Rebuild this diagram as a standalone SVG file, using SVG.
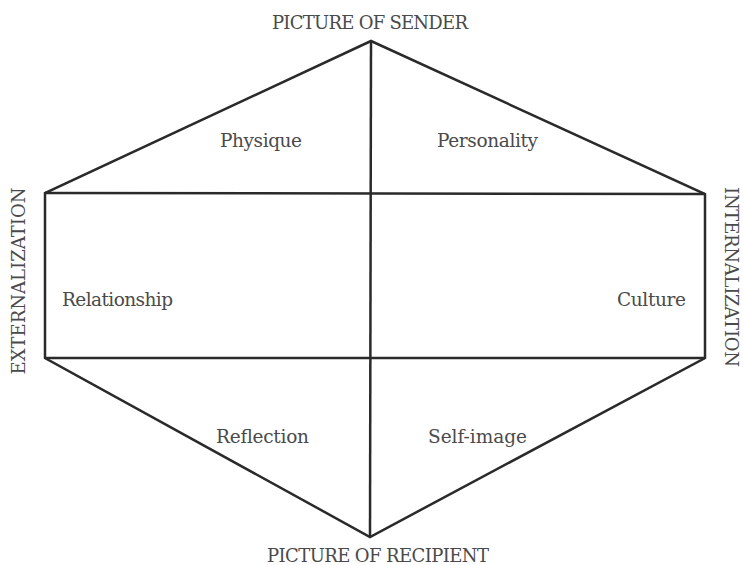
<svg xmlns="http://www.w3.org/2000/svg" width="743" height="565" viewBox="0 0 743 565">
<style>
text{font-family:"DejaVu Serif","Liberation Serif",serif;fill:#4a4a4a;font-size:18.5px}
.cap{font-size:18px}
.ln{stroke:#2a2a2a;stroke-width:2.5;fill:none;stroke-linejoin:miter}
</style>
<rect width="743" height="565" fill="#ffffff"/>
<g id="connectors">
<polygon class="ln" points="371,41 705,194 705,358 370,537 45,358 45,193"/>
<line class="ln" x1="371" y1="41" x2="370" y2="537"/>
<line class="ln" x1="45" y1="193" x2="705" y2="194"/>
<line class="ln" x1="45" y1="358" x2="705" y2="358"/>
</g>
<g id="sender"><text class="cap" x="370" y="29" text-anchor="middle" textLength="196">PICTURE OF SENDER</text></g>
<g id="recipient"><text class="cap" x="378" y="562" text-anchor="middle" textLength="222">PICTURE OF RECIPIENT</text></g>
<g id="externalization"><text class="cap" transform="translate(25,281) rotate(-90)" text-anchor="middle" textLength="187">EXTERNALIZATION</text></g>
<g id="internalization"><text class="cap" transform="translate(725,277) rotate(90)" text-anchor="middle" textLength="180">INTERNALIZATION</text></g>
<g id="physique"><text x="220" y="147" textLength="82">Physique</text></g>
<g id="personality"><text x="437" y="147" textLength="101">Personality</text></g>
<g id="relationship"><text x="62" y="306" textLength="111">Relationship</text></g>
<g id="culture"><text x="617" y="306" textLength="69">Culture</text></g>
<g id="reflection"><text x="216" y="443" textLength="93">Reflection</text></g>
<g id="selfimage"><text x="428" y="443" textLength="99">Self-image</text></g>
</svg>
